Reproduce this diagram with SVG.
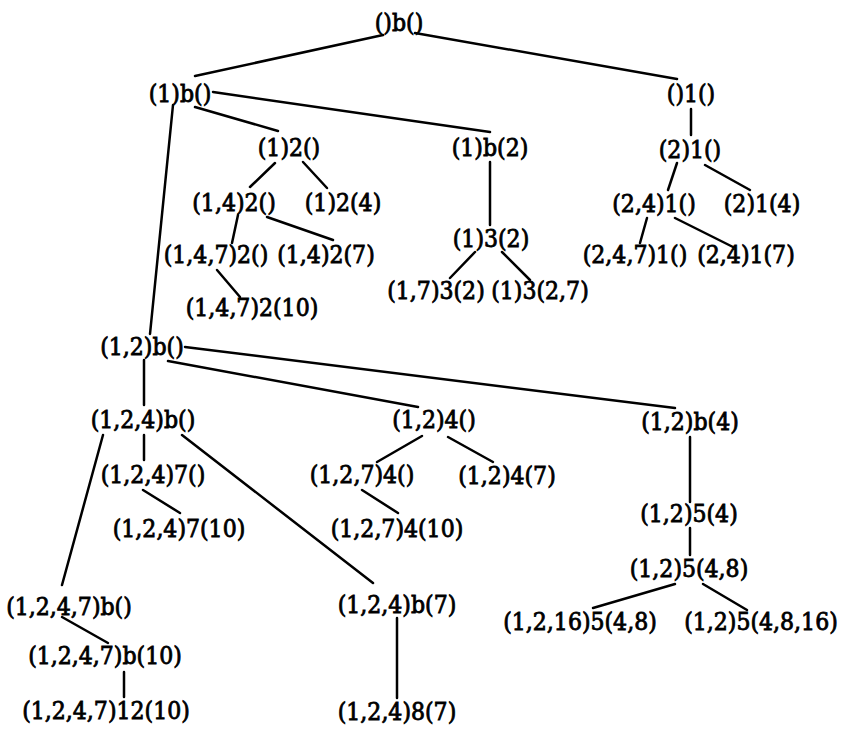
<svg xmlns="http://www.w3.org/2000/svg" width="849" height="729" viewBox="0 0 849 729">
<style>
text{font-family:"DejaVu Serif Condensed","DejaVu Serif","Liberation Serif",serif;font-stretch:condensed;font-size:24.5px;fill:#000;stroke:#000;stroke-width:0.8;text-anchor:middle}
.e line{stroke:#000;stroke-width:2.5;stroke-linecap:round}
</style>
<rect width="849" height="729" fill="#fff"/>
<g class="e" id="connectors">
<line x1="383" y1="35" x2="195" y2="76"/>
<line x1="415" y1="33" x2="677" y2="79"/>
<line x1="213" y1="92" x2="490" y2="132"/>
<line x1="195" y1="107" x2="278" y2="131"/>
<line x1="173" y1="105" x2="150" y2="334"/>
<line x1="275" y1="163" x2="250" y2="187"/>
<line x1="303" y1="162" x2="327" y2="188"/>
<line x1="238" y1="215" x2="232" y2="243"/>
<line x1="267" y1="217" x2="333" y2="240"/>
<line x1="217" y1="270" x2="240" y2="297"/>
<line x1="490" y1="162" x2="490" y2="225"/>
<line x1="475" y1="252" x2="450" y2="278"/>
<line x1="502" y1="252" x2="530" y2="280"/>
<line x1="691" y1="109" x2="691" y2="135"/>
<line x1="677" y1="163" x2="668" y2="190"/>
<line x1="705" y1="165" x2="750" y2="190"/>
<line x1="647" y1="218" x2="640" y2="243"/>
<line x1="675" y1="218" x2="733" y2="247"/>
<line x1="144" y1="360" x2="144" y2="405"/>
<line x1="168" y1="361" x2="418" y2="407"/>
<line x1="185" y1="347" x2="675" y2="408"/>
<line x1="144" y1="435" x2="144" y2="460"/>
<line x1="103" y1="435" x2="62" y2="585"/>
<line x1="182" y1="435" x2="373" y2="583"/>
<line x1="143" y1="490" x2="180" y2="513"/>
<line x1="422" y1="436" x2="377" y2="462"/>
<line x1="448" y1="437" x2="493" y2="462"/>
<line x1="362" y1="490" x2="398" y2="513"/>
<line x1="690" y1="437" x2="690" y2="502"/>
<line x1="690" y1="528" x2="690" y2="555"/>
<line x1="675" y1="584" x2="593" y2="608"/>
<line x1="703" y1="584" x2="747" y2="610"/>
<line x1="62" y1="617" x2="108" y2="643"/>
<line x1="124" y1="672" x2="124" y2="697"/>
<line x1="397" y1="618" x2="397" y2="698"/>
</g>
<g id="n1"><text x="399" y="31">()b()</text></g>
<g id="n2"><text x="180" y="102">(1)b()</text></g>
<g id="n3"><text x="691" y="102">()1()</text></g>
<g id="n4"><text x="289" y="156">(1)2()</text></g>
<g id="n5"><text x="490" y="156">(1)b(2)</text></g>
<g id="n6"><text x="234" y="211">(1,4)2()</text></g>
<g id="n7"><text x="343" y="211">(1)2(4)</text></g>
<g id="n8"><text x="216" y="263">(1,4,7)2()</text></g>
<g id="n9"><text x="326" y="263">(1,4)2(7)</text></g>
<g id="n10"><text x="252" y="316">(1,4,7)2(10)</text></g>
<g id="n11"><text x="491" y="247">(1)3(2)</text></g>
<g id="n12"><text x="436" y="299">(1,7)3(2)</text></g>
<g id="n13"><text x="540" y="299">(1)3(2,7)</text></g>
<g id="n14"><text x="690" y="158">(2)1()</text></g>
<g id="n15"><text x="654" y="212">(2,4)1()</text></g>
<g id="n16"><text x="762" y="212">(2)1(4)</text></g>
<g id="n17"><text x="635" y="263">(2,4,7)1()</text></g>
<g id="n18"><text x="746" y="263">(2,4)1(7)</text></g>
<g id="n19"><text x="142" y="355">(1,2)b()</text></g>
<g id="n20"><text x="143" y="428">(1,2,4)b()</text></g>
<g id="n21"><text x="153" y="483">(1,2,4)7()</text></g>
<g id="n22"><text x="179" y="537">(1,2,4)7(10)</text></g>
<g id="n23"><text x="434" y="428">(1,2)4()</text></g>
<g id="n24"><text x="362" y="483">(1,2,7)4()</text></g>
<g id="n25"><text x="397" y="537">(1,2,7)4(10)</text></g>
<g id="n26"><text x="507" y="484">(1,2)4(7)</text></g>
<g id="n27"><text x="690" y="430">(1,2)b(4)</text></g>
<g id="n28"><text x="689" y="522">(1,2)5(4)</text></g>
<g id="n29"><text x="689" y="577">(1,2)5(4,8)</text></g>
<g id="n30"><text x="580" y="630">(1,2,16)5(4,8)</text></g>
<g id="n31"><text x="761" y="630">(1,2)5(4,8,16)</text></g>
<g id="n32"><text x="69" y="615">(1,2,4,7)b()</text></g>
<g id="n33"><text x="105" y="664">(1,2,4,7)b(10)</text></g>
<g id="n34"><text x="106" y="719">(1,2,4,7)12(10)</text></g>
<g id="n35"><text x="397" y="613">(1,2,4)b(7)</text></g>
<g id="n36"><text x="397" y="720">(1,2,4)8(7)</text></g>
</svg>
